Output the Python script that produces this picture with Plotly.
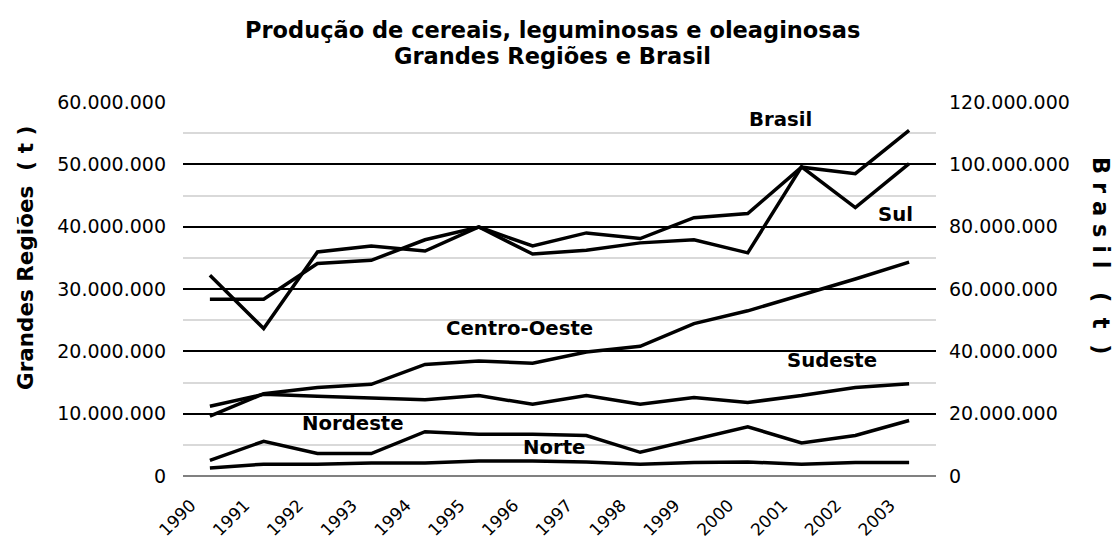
import plotly.graph_objects as go

years = ["1990", "1991", "1992", "1993", "1994", "1995", "1996",
         "1997", "1998", "1999", "2000", "2001", "2002", "2003"]

brasil = [64_400_000, 47_300_000, 71_900_000, 73_800_000, 72_200_000, 79_900_000, 73_800_000,
          78_000_000, 76_200_000, 82_900_000, 84_200_000, 99_100_000, 97_000_000, 110_900_000]
sul = [28_350_000, 28_350_000, 34_100_000, 34_600_000, 37_900_000, 39_950_000, 35_600_000,
       36_200_000, 37_400_000, 37_900_000, 35_800_000, 49_600_000, 43_060_000, 50_100_000]
centro_oeste = [9_600_000, 13_200_000, 14_200_000, 14_700_000, 17_900_000, 18_450_000, 18_100_000,
                19_900_000, 20_800_000, 24_450_000, 26_500_000, 29_000_000, 31_600_000, 34_300_000]
sudeste = [11_200_000, 13_100_000, 12_800_000, 12_500_000, 12_250_000, 12_900_000, 11_500_000,
           12_900_000, 11_500_000, 12_600_000, 11_800_000, 12_900_000, 14_200_000, 14_800_000]
nordeste = [2_500_000, 5_570_000, 3_600_000, 3_600_000, 7_100_000, 6_700_000, 6_700_000,
            6_500_000, 3_800_000, 5_800_000, 7_900_000, 5_300_000, 6_500_000, 8_900_000]
norte = [1_300_000, 1_900_000, 1_900_000, 2_100_000, 2_100_000, 2_400_000, 2_400_000,
         2_250_000, 1_900_000, 2_150_000, 2_250_000, 1_900_000, 2_150_000, 2_150_000]

title_lines = ["Produção de cereais, leguminosas e oleaginosas", "Grandes Regiões e Brasil"]
left_title = "Grandes Regiões  ( t )"
right_title = "B r a s i l   (  t  )"

W, H = 1115, 542
L, R, T, B = 183, 179, 102, 66
FONT = "DejaVu Sans"
LINE_W = 3.5


def px(x, y):
    """pixel -> paper coords"""
    return (x - L) / (W - L - R), (H - B - y) / (H - T - B)


fig = go.Figure()
for name, vals in [("Sul", sul), ("Centro-Oeste", centro_oeste), ("Sudeste", sudeste),
                   ("Nordeste", nordeste), ("Norte", norte)]:
    fig.add_trace(go.Scatter(x=years, y=vals, mode="lines", name=name,
                             line=dict(color="black", width=LINE_W), yaxis="y"))
fig.add_trace(go.Scatter(x=years, y=brasil, mode="lines", name="Brasil",
                         line=dict(color="black", width=LINE_W), yaxis="y2"))

annotations = []
# title
for text, ypix in [(title_lines[0], 30), (title_lines[1], 56)]:
    ax, ay = px(552, ypix)
    annotations.append(dict(text="<b>%s</b>" % text, x=ax, y=ay, xref="paper", yref="paper",
                            showarrow=False, xanchor="center", yanchor="middle",
                            font=dict(family=FONT, size=22.5, color="black")))
# series labels
for text, xp, yp in [("Brasil", 780, 120), ("Sul", 895, 214), ("Centro-Oeste", 519, 328),
                     ("Sudeste", 832, 360), ("Nordeste", 353, 423), ("Norte", 554, 447)]:
    ax, ay = px(xp, yp)
    annotations.append(dict(text="<b>%s</b>" % text, x=ax, y=ay, xref="paper", yref="paper",
                            showarrow=False, xanchor="center", yanchor="middle",
                            font=dict(family=FONT, size=19.7, color="black")))
# axis titles
ax, ay = px(25, 258)
annotations.append(dict(text="<b>%s</b>" % left_title, x=ax, y=ay, xref="paper", yref="paper",
                        showarrow=False, textangle=-90, xanchor="center", yanchor="middle",
                        font=dict(family=FONT, size=21.5, color="black")))
ax, ay = px(1101, 256)
annotations.append(dict(text="<b>%s</b>" % right_title, x=ax, y=ay, xref="paper", yref="paper",
                        showarrow=False, textangle=90, xanchor="center", yanchor="middle",
                        font=dict(family=FONT, size=22.5, color="black")))

fig.update_layout(
    width=W, height=H,
    margin=dict(l=L, r=R, t=T, b=B, pad=0, autoexpand=False),
    paper_bgcolor="white", plot_bgcolor="white",
    showlegend=False,
    separators=",.",
    annotations=annotations,
    font=dict(family=FONT, size=18, color="black"),
    xaxis=dict(type="category", range=[-0.5, 13.5], showgrid=False, zeroline=False,
               automargin=False, showline=False, ticks="", tickangle=-45,
               tickfont=dict(family=FONT, size=17, color="black"),
               ticklabelstandoff=15, ticklabelshift=-19),
    yaxis=dict(range=[0, 60_000_000], dtick=10_000_000, tickformat=",d",
               automargin=False,
               showgrid=True, gridcolor="black", gridwidth=2,
               zeroline=True, zerolinecolor="#808080", zerolinewidth=2,
               showline=False, ticks="", ticklabelstandoff=16,
               tickfont=dict(family=FONT, size=19, color="black"),
               minor=dict(dtick=5_000_000, showgrid=True, gridcolor="#d9d9d9", gridwidth=2)),
    yaxis2=dict(range=[0, 120_000_000], dtick=20_000_000, tickformat=",d",
                automargin=False,
                overlaying="y", side="right", showgrid=False, zeroline=False,
                showline=False, ticks="", ticklabelstandoff=12,
                tickfont=dict(family=FONT, size=19, color="black")),
)

fig.write_html("out.html", config={"displayModeBar": False},
               post_script="document.body.style.margin='0';")
